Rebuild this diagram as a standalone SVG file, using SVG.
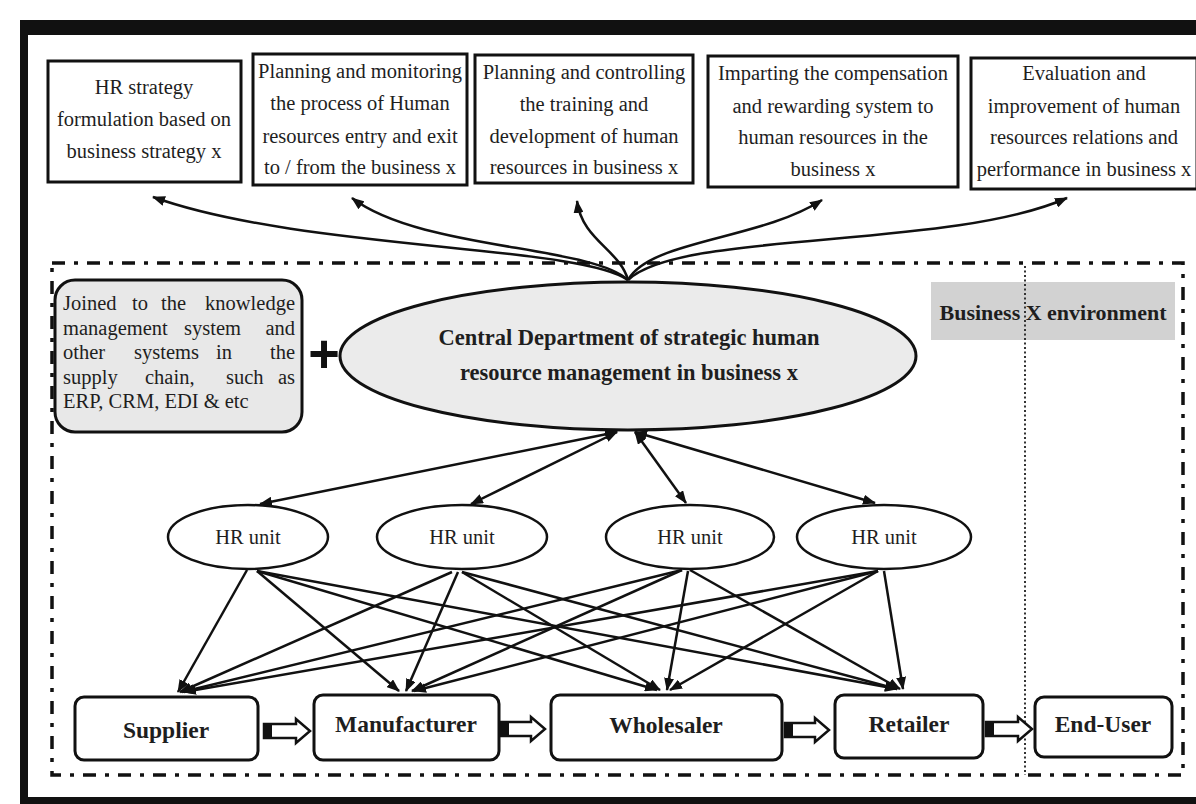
<svg xmlns="http://www.w3.org/2000/svg" width="1196" height="804" viewBox="0 0 1196 804">
<defs>
<style>
.t{font-family:"Liberation Serif","Times New Roman",serif;font-size:20.5px;fill:#1e1e1e;text-anchor:middle}
.b{font-family:"Liberation Serif","Times New Roman",serif;font-weight:bold;fill:#1e1e1e;text-anchor:middle}
.box{fill:#fff;stroke:#111;stroke-width:3}
.rbox{fill:#fff;stroke:#111;stroke-width:3}
.hr{fill:#fff;stroke:#111;stroke-width:2.5}
.con{fill:none;stroke:#111;stroke-width:2.5}
.blk{fill:#fff;stroke:#111;stroke-width:2.5;stroke-linejoin:miter}
.dd{fill:none;stroke:#111;stroke-width:3.5;stroke-dasharray:13 9 4 9}
</style>
<marker id="ah" viewBox="0 0 13 10" refX="12" refY="5" markerWidth="13" markerHeight="10" markerUnits="userSpaceOnUse" orient="auto-start-reverse">
<path d="M0,0 L13,5 L0,10 Z" fill="#111"/>
</marker>
</defs>
<rect width="1196" height="804" fill="#fff"/>
<!-- frame -->
<g id="frame">
<rect x="20" y="20" width="1176" height="15" fill="#111"/>
<rect x="20" y="20" width="8" height="784" fill="#111"/>
<rect x="20" y="797" width="1176" height="7" fill="#111"/>
</g>
<!-- environment boundary -->
<g id="environment">
<rect class="dd" x="52" y="263" width="1131" height="512"/>
<rect x="931" y="282" width="244" height="58" fill="#d2d2d2"/>
<text class="b" x="1053" y="320" font-size="22">Business X environment</text>
<line x1="1025" y1="266" x2="1025" y2="775" stroke="#333" stroke-width="2" stroke-dasharray="2 2.5"/>
</g>
<!-- top boxes -->
<g id="box1">
<rect class="box" x="48" y="61" width="193" height="121"/>
<text class="t" x="144" y="94">HR strategy</text>
<text class="t" x="144" y="126">formulation based on</text>
<text class="t" x="144" y="158">business strategy x</text>
</g>
<g id="box2">
<rect class="box" x="253" y="54" width="214" height="131"/>
<text class="t" x="360" y="78">Planning and monitoring</text>
<text class="t" x="360" y="110">the process of Human</text>
<text class="t" x="360" y="143">resources entry and exit</text>
<text class="t" x="360" y="174">to / from the business x</text>
</g>
<g id="box3">
<rect class="box" x="475" y="55" width="218" height="128"/>
<text class="t" x="584" y="79">Planning and controlling</text>
<text class="t" x="584" y="111">the training and</text>
<text class="t" x="584" y="143">development of human</text>
<text class="t" x="584" y="174">resources in business x</text>
</g>
<g id="box4">
<rect class="box" x="708" y="56" width="250" height="131"/>
<text class="t" x="833" y="80">Imparting the compensation</text>
<text class="t" x="833" y="113">and rewarding system to</text>
<text class="t" x="833" y="144">human resources in the</text>
<text class="t" x="833" y="176">business x</text>
</g>
<g id="box5">
<rect class="box" x="971" y="58" width="226" height="131"/>
<text class="t" x="1084" y="80">Evaluation and</text>
<text class="t" x="1084" y="113">improvement of human</text>
<text class="t" x="1084" y="144">resources relations and</text>
<text class="t" x="1084" y="176">performance in business x</text>
</g>
<!-- side note -->
<g id="systems">
<rect x="55" y="280" width="247" height="152" rx="20" ry="20" fill="#e8e8e8" stroke="#111" stroke-width="3"/>
<text class="t" style="text-anchor:start" y="310"><tspan x="63">Joined</tspan><tspan x="132">to</tspan><tspan x="161">the</tspan><tspan x="295" style="text-anchor:end">knowledge</tspan></text>
<text class="t" style="text-anchor:start" y="335"><tspan x="63">management</tspan><tspan x="184">system</tspan><tspan x="295" style="text-anchor:end">and</tspan></text>
<text class="t" style="text-anchor:start" y="359"><tspan x="63">other</tspan><tspan x="134">systems</tspan><tspan x="216">in</tspan><tspan x="295" style="text-anchor:end">the</tspan></text>
<text class="t" style="text-anchor:start" y="384"><tspan x="63">supply</tspan><tspan x="145">chain,</tspan><tspan x="226">such</tspan><tspan x="295" style="text-anchor:end">as</tspan></text>
<text class="t" style="text-anchor:start" x="63" y="408">ERP, CRM, EDI &amp; etc</text>
</g>
<g id="plus">
<text x="324" y="372" font-family="'Liberation Sans',Arial,sans-serif" font-weight="bold" font-size="54" fill="#111" text-anchor="middle">+</text>
</g>
<!-- central -->
<g id="central">
<ellipse cx="628" cy="356" rx="288" ry="74" fill="#ebebeb" stroke="#111" stroke-width="3"/>
<text class="b" x="629" y="345" font-size="22.5">Central Department of strategic human</text>
<text class="b" x="629" y="380" font-size="22.5">resource management in business x</text>
</g>
<!-- HR units -->
<g id="hr1"><ellipse class="hr" cx="248" cy="537" rx="80" ry="32"/><text class="t" x="248" y="544" font-size="18">HR unit</text></g>
<g id="hr2"><ellipse class="hr" cx="462" cy="537" rx="85" ry="32"/><text class="t" x="462" y="544" font-size="18">HR unit</text></g>
<g id="hr3"><ellipse class="hr" cx="690" cy="537" rx="84" ry="32"/><text class="t" x="690" y="544" font-size="18">HR unit</text></g>
<g id="hr4"><ellipse class="hr" cx="884" cy="537" rx="87" ry="32"/><text class="t" x="884" y="544" font-size="18">HR unit</text></g>
<!-- supply chain -->
<g id="supplier"><rect class="rbox" x="75" y="697" width="183" height="63" rx="9"/><text class="b" x="166" y="738" font-size="23.5">Supplier</text></g>
<g id="manufacturer"><rect class="rbox" x="314" y="695" width="185" height="65" rx="9"/><text class="b" x="406" y="732" font-size="23.5">Manufacturer</text></g>
<g id="wholesaler"><rect class="rbox" x="551" y="695" width="231" height="65" rx="9"/><text class="b" x="666" y="733" font-size="23.5">Wholesaler</text></g>
<g id="retailer"><rect class="rbox" x="835" y="695" width="148" height="63" rx="9"/><text class="b" x="909" y="732" font-size="23.5">Retailer</text></g>
<g id="enduser"><rect class="rbox" x="1035" y="697" width="137" height="60" rx="9"/><text class="b" x="1103" y="732" font-size="23.5">End-User</text></g>
<!-- connectors -->
<g id="connectors">
<g id="top-arrows" class="con" marker-end="url(#ah)">
<path class="con" marker-end="url(#ah)" d="M628,280 C580,245 300,250 153,197"/>
<path class="con" marker-end="url(#ah)" d="M628,280 C590,245 420,250 352,198"/>
<path class="con" marker-end="url(#ah)" d="M628,280 C620,250 582,240 577,201"/>
<path class="con" marker-end="url(#ah)" d="M628,280 C650,240 760,240 822,200"/>
<path class="con" marker-end="url(#ah)" d="M628,280 C680,230 950,250 1067,198"/>
</g>
<g id="central-hr">
<line class="con" marker-start="url(#ah)" marker-end="url(#ah)" x1="617" y1="432" x2="260" y2="504"/>
<line class="con" marker-start="url(#ah)" marker-end="url(#ah)" x1="617" y1="432" x2="471" y2="504"/>
<line class="con" marker-start="url(#ah)" marker-end="url(#ah)" x1="635" y1="432" x2="686" y2="503"/>
<line class="con" marker-start="url(#ah)" marker-end="url(#ah)" x1="635" y1="432" x2="875" y2="503"/>
</g>
<g id="hr-chain">
<line class="con" marker-end="url(#ah)" x1="247" y1="570" x2="178" y2="692"/>
<line class="con" marker-end="url(#ah)" x1="257" y1="571" x2="399" y2="691"/>
<line class="con" marker-end="url(#ah)" x1="257" y1="571" x2="657" y2="690"/>
<line class="con" marker-end="url(#ah)" x1="257" y1="571" x2="897" y2="689"/>
<line class="con" marker-end="url(#ah)" x1="452" y1="572" x2="180" y2="692"/>
<line class="con" marker-end="url(#ah)" x1="458" y1="572" x2="406" y2="691"/>
<line class="con" marker-end="url(#ah)" x1="462" y1="572" x2="660" y2="690"/>
<line class="con" marker-end="url(#ah)" x1="462" y1="572" x2="897" y2="689"/>
<line class="con" marker-end="url(#ah)" x1="682" y1="570" x2="182" y2="692"/>
<line class="con" marker-end="url(#ah)" x1="682" y1="570" x2="412" y2="691"/>
<line class="con" marker-end="url(#ah)" x1="688" y1="571" x2="667" y2="690"/>
<line class="con" marker-end="url(#ah)" x1="690" y1="570" x2="900" y2="689"/>
<line class="con" marker-end="url(#ah)" x1="878" y1="571" x2="184" y2="692"/>
<line class="con" marker-end="url(#ah)" x1="878" y1="571" x2="414" y2="691"/>
<line class="con" marker-end="url(#ah)" x1="878" y1="571" x2="670" y2="690"/>
<line class="con" marker-end="url(#ah)" x1="884" y1="571" x2="903" y2="689"/>
</g>
<g id="flow-arrows">
<path class="blk" d="M264,724 L296,724 L296,719 L310,731 L296,743 L296,738 L264,738 Z"/><rect x="264" y="724" width="8" height="14" fill="#111"/>
<path class="blk" d="M501,722 L531,722 L531,717 L545,729 L531,741 L531,736 L501,736 Z"/><rect x="501" y="722" width="8" height="14" fill="#111"/>
<path class="blk" d="M785,723 L815,723 L815,718 L829,730 L815,742 L815,737 L785,737 Z"/><rect x="785" y="723" width="8" height="14" fill="#111"/>
<path class="blk" d="M986,722 L1018,722 L1018,717 L1032,729 L1018,741 L1018,736 L986,736 Z"/><rect x="986" y="722" width="8" height="14" fill="#111"/>
</g>
</g>
</svg>
